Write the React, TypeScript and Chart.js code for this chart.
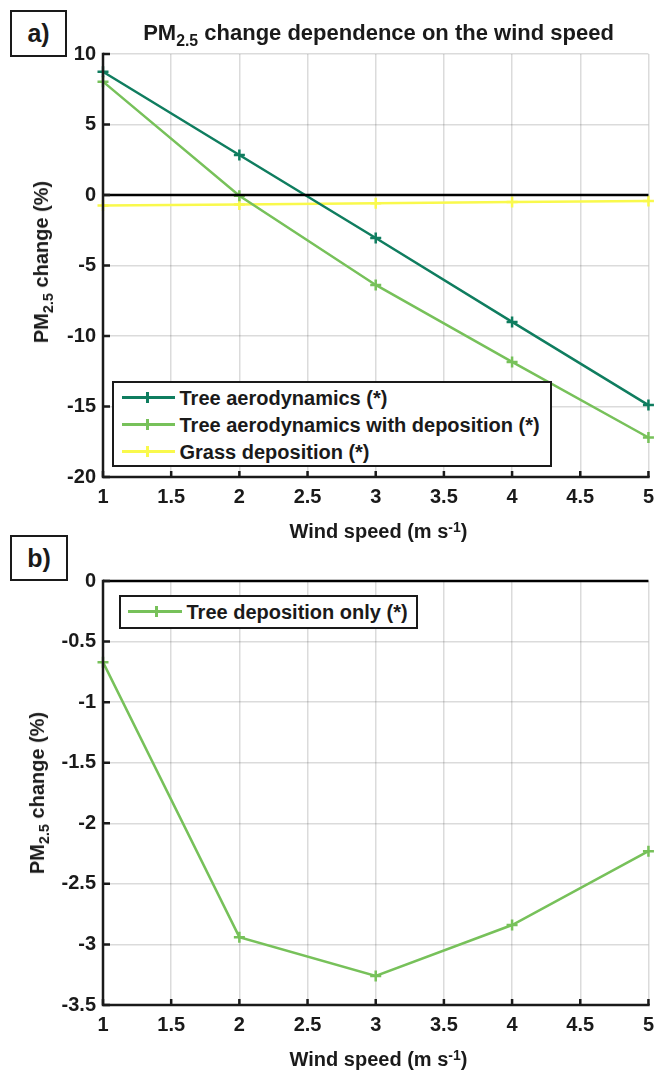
import React, { useEffect, useRef } from 'react';
import { Chart, registerables } from 'chart.js';

Chart.register(...registerables);

// ---------- data ----------
const windSpeed = [1, 2, 3, 4, 5];
const treeAerodynamics = [8.74, 2.84, -3.05, -9.0, -14.9];
const treeAeroWithDeposition = [8.04, -0.05, -6.38, -11.84, -17.2];
const grassDeposition = [-0.75, -0.68, -0.58, -0.5, -0.42];
const treeDepositionOnly = [-0.67, -2.94, -3.26, -2.84, -2.23];
const zeroLineX = [1, 5];
const zeroLineY = [0, 0];

const xTicks = [1, 1.5, 2, 2.5, 3, 3.5, 4, 4.5, 5];
const xTickLabels = ['1', '1.5', '2', '2.5', '3', '3.5', '4', '4.5', '5'];
const yTicksA = [-20, -15, -10, -5, 0, 5, 10];
const yTickLabelsA = ['-20', '-15', '-10', '-5', '0', '5', '10'];
const yTicksB = [-3.5, -3, -2.5, -2, -1.5, -1, -0.5, 0];
const yTickLabelsB = ['-3.5', '-3', '-2.5', '-2', '-1.5', '-1', '-0.5', '0'];

const legendA = ['Tree aerodynamics (*)', 'Tree aerodynamics with deposition (*)', 'Grass deposition (*)'];
const legendB = ['Tree deposition only (*)'];

// ---------- styles ----------
const TEAL = '#0f7d5f';
const GREEN = '#77c15a';
const YELLOW = '#f9f94c';
const INK = '#1a1a1a';
const FONT = '"Liberation Sans", Arial, Helvetica, sans-serif';

const toPoints = (xs: number[], ys: number[]) => xs.map((x, i) => ({ x, y: ys[i] }));

const matlabAxes = {
  id: 'matlabAxes',
  afterDatasetsDraw(chart: any) {
    const { ctx, chartArea: a, scales } = chart;
    const xs = scales.x;
    const ys = scales.y;
    ctx.save();
    ctx.strokeStyle = INK;
    ctx.lineWidth = 2.5;
    ctx.lineCap = 'square';
    ctx.beginPath();
    ctx.moveTo(a.left, a.top);
    ctx.lineTo(a.left, a.bottom);
    ctx.lineTo(a.right, a.bottom);
    ctx.stroke();
    ctx.lineCap = 'butt';
    ctx.beginPath();
    xs.ticks.forEach((t: any) => {
      const px = xs.getPixelForValue(t.value);
      ctx.moveTo(px, a.bottom);
      ctx.lineTo(px, a.bottom - 6);
    });
    ys.ticks.forEach((t: any) => {
      const py = ys.getPixelForValue(t.value);
      ctx.moveTo(a.left, py);
      ctx.lineTo(a.left + 7, py);
    });
    ctx.stroke();
    ctx.restore();
  },
};

function lineDataset(label: string, ys: number[], color: string) {
  return {
    label,
    data: toPoints(windSpeed, ys),
    borderColor: color,
    backgroundColor: color,
    pointBorderColor: color,
    pointBackgroundColor: color,
    borderWidth: 2.5,
    pointStyle: 'cross',
    pointRadius: 5.5,
    pointBorderWidth: 2.5,
    tension: 0,
    clip: false,
  };
}

function zeroDataset() {
  return {
    label: 'zero',
    data: toPoints(zeroLineX, zeroLineY),
    borderColor: '#000000',
    borderWidth: 2.5,
    pointRadius: 0,
    clip: false,
  };
}

function makeConfig(
  datasets: any[],
  yMin: number,
  yMax: number,
  yTicks: number[],
  yLabels: string[],
  areaTop: number,
  areaBottom: number,
  canvasH: number
) {
  const tickFont = { family: FONT, size: 20, weight: 'bold' as const };
  return {
    type: 'line' as const,
    data: { datasets },
    options: {
      animation: false as const,
      responsive: false,
      maintainAspectRatio: false,
      layout: { padding: { top: areaTop, right: 8, left: 0, bottom: 0 } },
      plugins: {
        legend: { display: false },
        title: { display: false },
        tooltip: { enabled: false },
      },
      scales: {
        x: {
          type: 'linear' as const,
          min: 1,
          max: 5,
          afterBuildTicks: (s: any) => {
            s.ticks = xTicks.map((v) => ({ value: v }));
          },
          afterFit: (s: any) => {
            s.height = canvasH - areaBottom;
          },
          ticks: {
            callback: (v: any) => {
              const i = xTicks.indexOf(Number(v));
              return i >= 0 ? xTickLabels[i] : '';
            },
            font: tickFont,
            color: INK,
            padding: 8,
            maxRotation: 0,
            autoSkip: false,
          },
          grid: { color: 'rgba(0,0,0,0.14)', lineWidth: 1.5, drawTicks: false },
          border: { display: false },
        },
        y: {
          type: 'linear' as const,
          min: yMin,
          max: yMax,
          afterBuildTicks: (s: any) => {
            s.ticks = yTicks.map((v) => ({ value: v }));
          },
          afterFit: (s: any) => {
            s.width = 103;
          },
          ticks: {
            callback: (v: any) => {
              const i = yTicks.indexOf(Number(v));
              return i >= 0 ? yLabels[i] : '';
            },
            font: tickFont,
            color: INK,
            padding: 7,
            autoSkip: false,
          },
          grid: { color: 'rgba(0,0,0,0.14)', lineWidth: 1.5, drawTicks: false },
          border: { display: false },
        },
      },
    },
    plugins: [matlabAxes],
  };
}

function ChartCanvas({ config, top, height }: { config: any; top: number; height: number }) {
  const ref = useRef<HTMLCanvasElement | null>(null);
  useEffect(() => {
    if (!ref.current) return;
    const chart = new Chart(ref.current, config);
    return () => chart.destroy();
  }, [config]);
  return (
    <canvas
      ref={ref}
      width={662}
      height={height}
      style={{ position: 'absolute', left: 0, top, width: 662, height }}
    />
  );
}

const text: React.CSSProperties = {
  position: 'absolute',
  fontFamily: FONT,
  fontWeight: 'bold',
  color: INK,
  whiteSpace: 'nowrap',
};

const Sub = ({ children }: { children: React.ReactNode }) => (
  <span style={{ fontSize: '0.72em', position: 'relative', top: '0.38em' }}>{children}</span>
);
const Sup = ({ children }: { children: React.ReactNode }) => (
  <span style={{ fontSize: '0.7em', position: 'relative', top: '-0.45em' }}>{children}</span>
);

function PanelLabel({ label, left, top, width, height }: any) {
  return (
    <div
      style={{
        ...text,
        left,
        top,
        width,
        height,
        boxSizing: 'border-box',
        border: `2.5px solid ${INK}`,
        background: '#fff',
        fontSize: 25,
        display: 'flex',
        alignItems: 'center',
        justifyContent: 'center',
      }}
    >
      {label}
    </div>
  );
}

function YLabel({ cx, cy }: { cx: number; cy: number }) {
  return (
    <div
      style={{
        ...text,
        left: cx,
        top: cy,
        fontSize: 20,
        lineHeight: '22px',
        transform: 'translate(-50%, -50%) rotate(-90deg)',
      }}
    >
      PM<Sub>2.5</Sub> change (%)
    </div>
  );
}

function XLabel({ cy }: { cy: number }) {
  return (
    <div
      style={{
        ...text,
        left: 103,
        width: 551,
        top: cy - 11,
        fontSize: 20,
        lineHeight: '22px',
        textAlign: 'center',
      }}
    >
      Wind speed (m s<Sup>-1</Sup>)
    </div>
  );
}

function Legend({ left, top, width, height, rows, colors, rowCenters, lineFrom, lineTo, marker, textLeft }: any) {
  return (
    <div
      style={{
        position: 'absolute',
        left,
        top,
        width,
        height,
        boxSizing: 'border-box',
        border: `2.5px solid ${INK}`,
        background: '#fff',
      }}
    >
      {rows.map((r: string, i: number) => {
        const cy = rowCenters[i] - 2.5;
        return (
          <React.Fragment key={r}>
            <div
              style={{
                position: 'absolute',
                left: lineFrom - 2.5,
                top: cy - 1.25,
                width: lineTo - lineFrom,
                height: 2.5,
                background: colors[i],
              }}
            />
            <div
              style={{
                position: 'absolute',
                left: marker - 2.5 - 1.25,
                top: cy - 5.5,
                width: 2.5,
                height: 11,
                background: colors[i],
              }}
            />
            <div
              style={{
                ...text,
                left: textLeft - 2.5,
                top: cy - 11,
                fontSize: 20,
                lineHeight: '22px',
              }}
            >
              {r}
            </div>
          </React.Fragment>
        );
      })}
    </div>
  );
}

const configA = makeConfig(
  [
    zeroDataset(),
    lineDataset(legendA[0], treeAerodynamics, TEAL),
    lineDataset(legendA[1], treeAeroWithDeposition, GREEN),
    lineDataset(legendA[2], grassDeposition, YELLOW),
  ],
  -20,
  10,
  yTicksA,
  yTickLabelsA,
  54,
  477,
  535
);

const configB = makeConfig(
  [zeroDataset(), lineDataset(legendB[0], treeDepositionOnly, GREEN)],
  -3.5,
  0,
  yTicksB,
  yTickLabelsB,
  46,
  470,
  537
);

export default function App() {
  return (
    <div style={{ position: 'absolute', left: 0, top: 0, width: 662, height: 1072, background: '#fff', overflow: 'hidden' }}>
      <ChartCanvas config={configA} top={0} height={535} />
      <ChartCanvas config={configB} top={535} height={537} />

      <PanelLabel label="a)" left={10} top={10} width={57} height={47} />
      <div
        style={{
          ...text,
          left: 103,
          width: 551,
          top: 20,
          fontSize: 22,
          lineHeight: '26px',
          textAlign: 'center',
        }}
      >
        PM<Sub>2.5</Sub> change dependence on the wind speed
      </div>
      <YLabel cx={42} cy={262} />
      <XLabel cy={531} />
      <Legend
        left={112}
        top={381}
        width={440}
        height={86}
        rows={legendA}
        colors={[TEAL, GREEN, YELLOW]}
        rowCenters={[17, 44, 71]}
        lineFrom={10}
        lineTo={63}
        marker={36}
        textLeft={68}
      />

      <PanelLabel label="b)" left={10} top={535} width={58} height={46} />
      <YLabel cx={38} cy={793} />
      <XLabel cy={1059} />
      <Legend
        left={119}
        top={595}
        width={299}
        height={34}
        rows={legendB}
        colors={[GREEN]}
        rowCenters={[17]}
        lineFrom={9}
        lineTo={63}
        marker={38}
        textLeft={68}
      />
    </div>
  );
}
